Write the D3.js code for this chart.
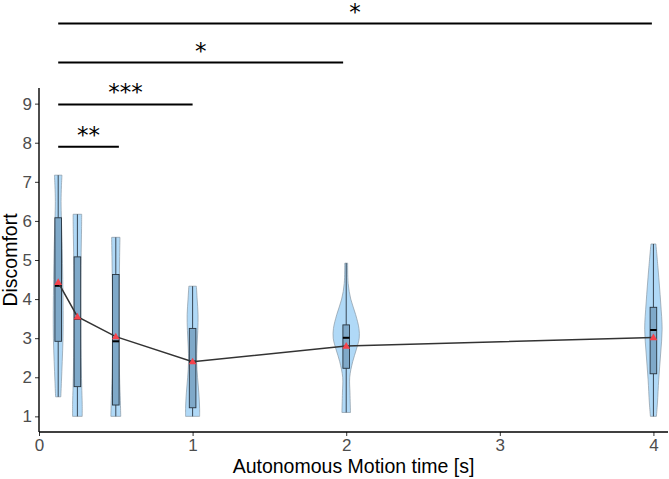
<!DOCTYPE html>
<html>
<head>
<meta charset="utf-8">
<script src="https://cdn.jsdelivr.net/npm/d3@7"></script>
<style>
  html, body { margin: 0; padding: 0; background: #fff; }
  svg { display: block; }
</style>
</head>
<body>
<svg id="chart" width="669" height="479"></svg>
<script>
// ---------- data ----------
const times   = [0.125, 0.25, 0.5, 1, 2, 4];
const minVals = [1.5, 1.0, 1.0, 1.0, 1.1, 1.0];
const q1Vals  = [2.92, 1.76, 1.29, 1.22, 2.23, 2.09];
const medians = [4.34, 3.5, 2.92, 2.4, 3.01, 3.21];
const q3Vals  = [6.08, 5.08, 4.63, 3.25, 3.34, 3.79];
const maxVals = [7.17, 6.17, 5.58, 4.33, 4.92, 5.41];
const means   = [4.43, 3.55, 3.04, 2.40, 2.80, 3.02];

// violin density profiles: [value, relative density]
const densities = [
  [[7.17,.29],[6.9,.25],[6.5,.22],[6.0,.25],[5.3,.31],[4.5,.35],[3.7,.38],[3.0,.37],[2.4,.31],[1.9,.25],[1.5,.20]],
  [[6.17,.33],[5.8,.32],[5.2,.29],[4.5,.27],[3.5,.27],[2.5,.29],[1.8,.33],[1.3,.37],[1.0,.37]],
  [[5.58,.32],[5.0,.29],[4.0,.26],[3.0,.26],[2.0,.29],[1.4,.35],[1.0,.38]],
  [[4.33,.29],[4.0,.35],[3.6,.42],[3.2,.40],[2.8,.34],[2.4,.31],[2.0,.38],[1.6,.48],[1.2,.54],[1.0,.54]],
  [[4.92,.11],[4.4,.15],[4.0,.35],[3.6,.73],[3.25,.98],[3.0,1.0],[2.7,.77],[2.4,.5],[2.0,.27],[1.6,.29],[1.1,.33]],
  [[5.41,.19],[4.77,.36],[3.9,.56],[3.23,.67],[2.62,.56],[1.95,.41],[1.34,.31],[1.0,.23]]
];

// significance brackets
const sigFrom   = [0.125, 0.125, 0.125, 0.125];
const sigTo     = [0.52, 1.0, 1.98, 3.99];
const sigLevel  = [7.9, 8.98, 10.05, 11.05];
const sigLabels = ["**", "***", "*", "*"];

const xTicks = [0, 1, 2, 3, 4];
const yTicks = [1, 2, 3, 4, 5, 6, 7, 8, 9];

// ---------- layout ----------
const svg = d3.select("#chart");
const pLeft = 39, pRight = 668, pTop = 88, pBottom = 432;

const x = d3.scaleLinear().domain([0, 4.095]).range([pLeft, pRight]);
const y = d3.scaleLinear().domain([0.6, 9.4]).range([pBottom, pTop]);
const w = d3.scaleLinear().domain([0, 1]).range([0, 13]);
const boxHalf = 3.3;

const font = "'Liberation Sans', Arial, Helvetica, sans-serif";

// violins
const area = d3.area()
  .curve(d3.curveCatmullRom)
  .y(d => y(d[0]));

times.forEach((t, i) => {
  const cx = x(t);
  svg.append("path")
    .datum(densities[i])
    .attr("d", area.x0(d => cx - w(d[1])).x1(d => cx + w(d[1])))
    .attr("fill", "#b0d9f7")
    .attr("stroke", "#8a98a4")
    .attr("stroke-width", 0.7);
});

// boxplots
times.forEach((t, i) => {
  const cx = x(t);
  const g = svg.append("g");
  g.append("line").attr("x1", cx).attr("x2", cx)
    .attr("y1", y(maxVals[i])).attr("y2", y(q3Vals[i]))
    .attr("stroke", "#2a3642").attr("stroke-width", 0.9);
  g.append("line").attr("x1", cx).attr("x2", cx)
    .attr("y1", y(q1Vals[i])).attr("y2", y(minVals[i]))
    .attr("stroke", "#2a3642").attr("stroke-width", 0.9);
  g.append("rect")
    .attr("x", cx - boxHalf).attr("width", boxHalf * 2)
    .attr("y", y(q3Vals[i])).attr("height", y(q1Vals[i]) - y(q3Vals[i]))
    .attr("fill", "#7fa9c9").attr("stroke", "#26323d").attr("stroke-width", 0.9);
  g.append("line")
    .attr("x1", cx - boxHalf).attr("x2", cx + boxHalf)
    .attr("y1", y(medians[i])).attr("y2", y(medians[i]))
    .attr("stroke", "#000").attr("stroke-width", 2);
});

// mean line
const line = d3.line().x((d, i) => x(times[i])).y(d => y(d));
svg.append("path").datum(means)
  .attr("d", line)
  .attr("fill", "none").attr("stroke", "#333").attr("stroke-width", 1.5);

// mean triangles
const tri = d3.symbol().type(d3.symbolTriangle).size(26);
means.forEach((m, i) => {
  svg.append("path")
    .attr("d", tri())
    .attr("transform", `translate(${x(times[i])},${y(m) + 0.5})`)
    .attr("fill", "#f5434c");
});

// axes
const xAxis = d3.axisBottom(x).tickValues(xTicks).tickSize(4).tickPadding(3).tickFormat(d3.format("d"));
const yAxis = d3.axisLeft(y).tickValues(yTicks).tickSize(4).tickPadding(3).tickFormat(d3.format("d"));

const gx = svg.append("g").attr("transform", `translate(0,${pBottom})`).call(xAxis);
const gy = svg.append("g").attr("transform", `translate(${pLeft},0)`).call(yAxis);

[gx, gy].forEach(g => {
  g.attr("font-size", 17).attr("font-family", font);
  g.select(".domain").remove();
  g.selectAll(".tick line").attr("stroke", "#333").attr("stroke-width", 1);
  g.selectAll(".tick text").attr("fill", "#4d4d4d");
});

svg.append("line").attr("x1", pLeft).attr("x2", pRight).attr("y1", pBottom).attr("y2", pBottom)
  .attr("stroke", "#000").attr("stroke-width", 1.4);
svg.append("line").attr("x1", pLeft).attr("x2", pLeft).attr("y1", pTop).attr("y2", pBottom)
  .attr("stroke", "#000").attr("stroke-width", 1.4);

// axis titles
svg.append("text")
  .attr("x", (pLeft + pRight) / 2).attr("y", 473)
  .attr("text-anchor", "middle")
  .attr("font-family", font).attr("font-size", 19.5).attr("fill", "#000")
  .text("Autonomous Motion time [s]");

svg.append("text")
  .attr("transform", `translate(17,${(pTop + pBottom) / 2}) rotate(-90)`)
  .attr("text-anchor", "middle")
  .attr("font-family", font).attr("font-size", 19.5).attr("fill", "#000")
  .text("Discomfort");

// significance brackets
sigLabels.forEach((lab, i) => {
  const yy = y(sigLevel[i]);
  svg.append("line")
    .attr("x1", x(sigFrom[i])).attr("x2", x(sigTo[i]))
    .attr("y1", yy).attr("y2", yy)
    .attr("stroke", "#000").attr("stroke-width", 2);
  svg.append("text")
    .attr("x", (x(sigFrom[i]) + x(sigTo[i])) / 2)
    .attr("y", yy - 4)
    .attr("text-anchor", "middle")
    .attr("font-family", "'DejaVu Sans', sans-serif").attr("font-size", 23).attr("fill", "#000")
    .text(lab);
});
</script>
</body>
</html>
